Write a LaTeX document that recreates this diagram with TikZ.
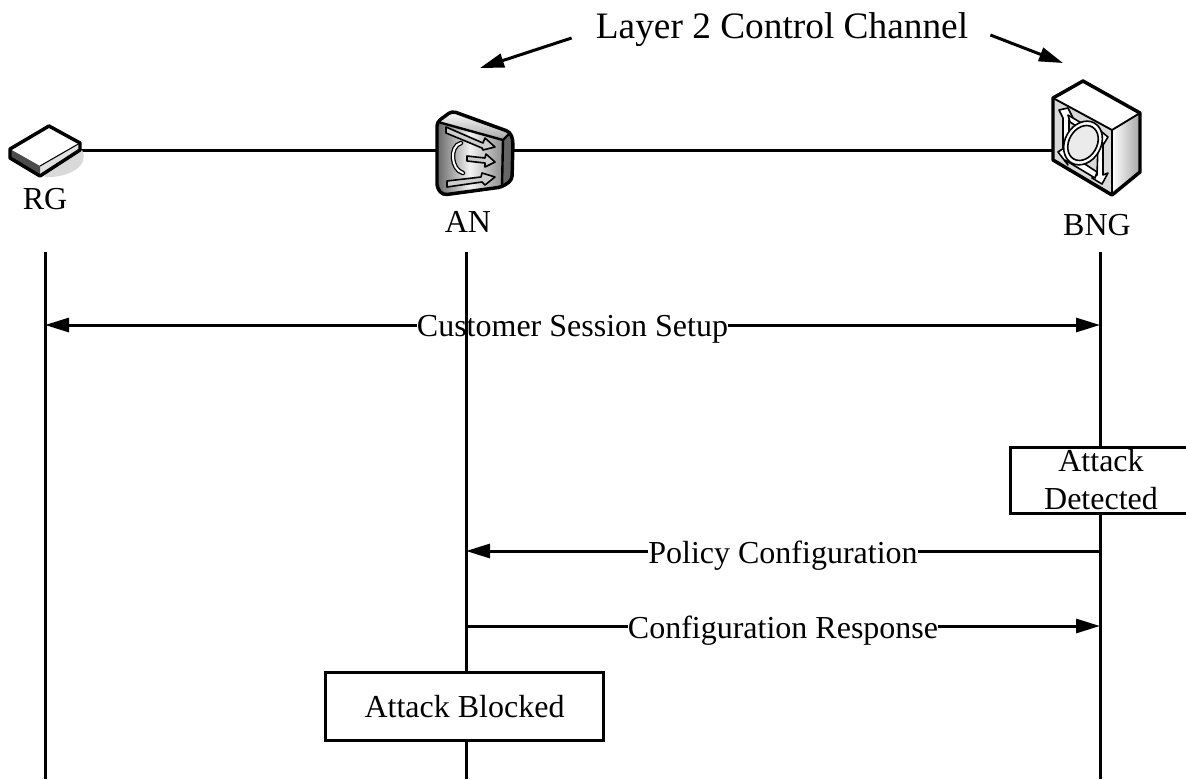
\documentclass[tikz,border=0pt]{standalone}
\usepackage{fontspec}
\setmainfont{Liberation Serif}
\usetikzlibrary{positioning, arrows.meta}

\begin{document}
\begin{tikzpicture}[
		x=0.75pt,
		y=-0.75pt,
		>={Triangle[length=18pt,width=10.5pt]}, % Filled arrow tips
		line/.style={
				line width=2.25pt
			},
		device/.style={
				minimum width=#1,
				minimum height=30pt,
				inner sep=0pt
			},
		devlabel/.style={
				font=\fontsize{24pt}{28pt}\selectfont,
				inner sep=0pt
			},
		msg/.style={
				font=\fontsize{24pt}{28pt}\selectfont,
				fill=white,
				inner sep=0pt,
				yshift=-3.5pt
			},
		statebox/.style={
				draw,
				line width=2.25pt,
				fill=white,
				font=\fontsize{24pt}{28.5pt}\selectfont,
				align=center,
				inner sep=0pt
			},
		icon/.style={
				draw=black,
				line width=2.6pt,
				line join=round
			},
		glyph/.style={
				draw=black,
				line width=1.2pt,
				fill=white,
				line join=round
			}
	]
	\useasboundingbox (0,0) rectangle (1186,779);

	% Nodes
	\node[device=52.5pt] (rg) at (45,150) {};
	\node[device=56.25pt] (an) at (474.5,150) {};
	\node[device=65.25pt] (bng) at (1096.5,150) {};
	\node[devlabel] (rg_label) at (45,199) {RG};
	\node[devlabel] (an_label) at (468,222) {AN};
	\node[devlabel] (bng_label) at (1097,225) {BNG};
	\node[devlabel, font=\fontsize{28pt}{32pt}\selectfont] (channel) at (782,30) {Layer 2 Control Channel};
	\coordinate (channel_an) at (480,68);
	\coordinate (channel_bng) at (1063,63);

	% Lifeline ends
	\coordinate (rg_top) at (45,252);
	\coordinate (rg_bot) at (45,779);
	\coordinate (an_top) at (466,252);
	\coordinate (an_bot) at (466,779);
	\coordinate (bng_top) at (1100,252);
	\coordinate (bng_bot) at (1100,779);

	% Message ends
	\coordinate (setup_rg) at (45,325);
	\coordinate (setup_bng) at (1100,325);
	\coordinate (policy_bng) at (1100,551);
	\coordinate (policy_an) at (466,551);
	\coordinate (resp_an) at (466,626);
	\coordinate (resp_bng) at (1100,626);

	% Paths
	\draw[line] (rg) -- (an);
	\draw[line] (an) -- (bng);
	\draw[line, ->] (channel.west) ++(-24,8) coordinate (channel_w) -- (channel_an);
	\draw[line, ->] (channel.east) ++(22,5) coordinate (channel_e) -- (channel_bng);
	\draw[line, <->] (setup_rg) -- node[msg, pos=0.5] {Customer Session Setup} (setup_bng);
	\draw[line, ->] (policy_bng) -- node[msg, pos=0.5] {Policy Configuration} (policy_an);
	\draw[line, ->] (resp_an) -- node[msg, pos=0.5] {Configuration Response} (resp_bng);
	\draw[line] (rg_top) -- (rg_bot);
	\draw[line] (an_top) -- (an_bot);
	\draw[line] (bng_top) -- (bng_bot);

	% State boxes
	\node[statebox, minimum width=136.5pt, minimum height=50pt] (detected) at (1101,480.5) {\raisebox{1pt}{Attack}\\\raisebox{1pt}{Detected}};
	\node[statebox, minimum width=209pt, minimum height=51pt] (blocked) at (464.5,706.5) {Attack Blocked};

	% RG icon
	\fill[black!15] (45,170) -- (82,150) .. controls (90,165) and (70,178) .. (45,177) -- cycle;
	\fill[white] (10,149) -- (49,126) -- (80,143) -- (80,150) -- (40,176) -- (10,158) -- cycle;
	\fill[black!12] (40,166) -- (80,143) -- (80,150) -- (40,176) -- cycle;
	\fill[black!70] (10,149) -- (40,166) -- (40,176) -- (10,158) -- cycle;
	\draw[icon] (10,149) -- (49,126) -- (80,143) -- (80,150) -- (40,176) -- (10,158) -- cycle;
	\draw[black, line width=0.8pt] (40,166) -- (80,143);

	% AN icon
	\fill[black!60] (503,140) -- (510,132) -- (513,140) -- (512,180) -- (502,187) -- cycle;
	\shade[top color=white, bottom color=black!35] (437,123) -- (453,111) -- (510,132) -- (503,140) -- cycle;
	\shade[left color=black!60, right color=black!45, middle color=black!5] (437,123) -- (503,140) -- (502,187) -- (443,195) -- (437,188) -- cycle;
	\draw[icon, rounded corners=3pt] (437,122) -- (452,111) -- (510,132) -- (513,140) -- (512,180) -- (502,187) -- (443,195) -- (437,188) -- cycle;
	\draw[black, line width=1.8pt] (438,122) -- (503,140) -- (510,133) (503,140) -- (502,187);
	\draw[glyph, fill=black!20] (446,127) -- (483,143) -- (485,138) -- (495,147) -- (483,150) -- (482,148) -- (446,133) -- cycle;
	\draw[glyph, fill=black!20] (467,156) -- (485,158) -- (486,154) -- (495,162) -- (485,167) -- (485,163) -- (467,161) -- cycle;
	\draw[glyph, fill=black!20] (447,181) -- (481,177) -- (482,173) -- (495,177) -- (485,185) -- (482,182) -- (447,187) -- cycle;
	\draw[black, line width=3.4pt, line cap=round] (461,143) .. controls (449,146) and (451,170) .. (463,173);
	\draw[white, line width=1.5pt, line cap=round] (461,143) .. controls (449,146) and (451,170) .. (463,173);

	% BNG icon
	\fill[white] (1053,98) -- (1083,81) -- (1140,113) -- (1112,130) -- cycle;
	\shade[left color=white, right color=black!35] (1112,130) -- (1140,113) -- (1140,172) -- (1112,195) -- cycle;
	\fill[black!15] (1053,98) -- (1112,130) -- (1112,195) -- (1053,160) -- cycle;
	\draw[icon] (1053,98) -- (1083,81) -- (1140,113) -- (1140,172) -- (1112,195) -- (1053,160) -- cycle;
	\draw[black, line width=1.4pt] (1053,98) -- (1112,130) -- (1140,113) (1112,130) -- (1112,195);
	\draw[glyph] (1059,110) -- (1068,108) -- (1075,122) -- (1069,120) -- (1069,150) -- (1063,152) -- (1063,118) -- cycle;
	\draw[glyph] (1068,115) -- (1098,133) -- (1097,128) -- (1108,137) -- (1100,150) -- (1098,140) -- (1070,122) -- cycle;
	\draw[glyph] (1098,145) -- (1103,143) -- (1103,175) -- (1108,173) -- (1102,184) -- (1092,178) -- (1097,175) -- cycle;
	\draw[glyph] (1097,172) -- (1095,178) -- (1065,160) -- (1068,165) -- (1058,152) -- (1067,146) -- (1068,153) -- cycle;
	\draw[glyph, rotate around={-30:(1083,143)}] (1083,143) ellipse (18 and 23);
	\draw[glyph, fill=black!8, rotate around={-30:(1083,143)}] (1083,143) ellipse (14 and 18.5);
\end{tikzpicture}
\end{document}
